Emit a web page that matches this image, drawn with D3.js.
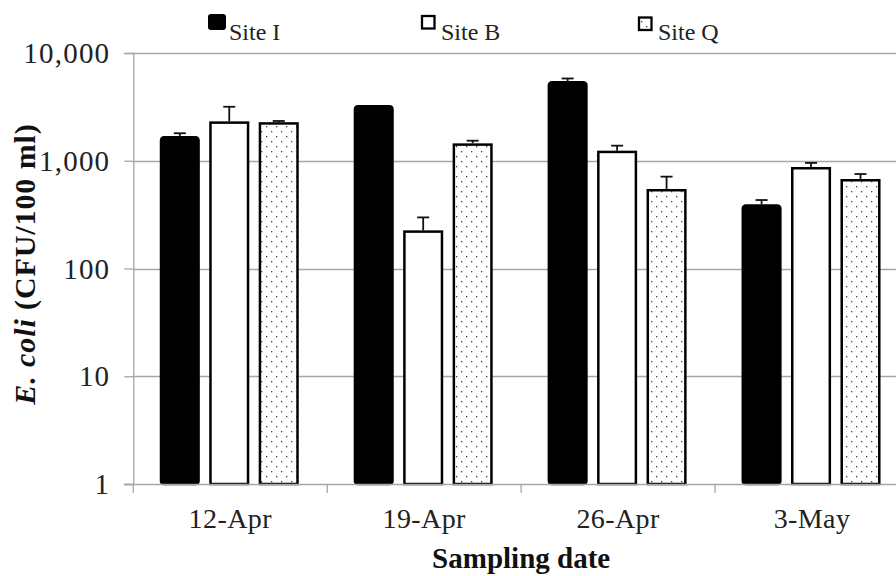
<!DOCTYPE html>
<html>
<head>
<meta charset="utf-8">
<script src="https://cdn.jsdelivr.net/npm/d3@7"></script>
<style>
html,body{margin:0;padding:0;background:#fff;}
svg{display:block;}
</style>
</head>
<body>
<script>
const categories = ["12-Apr", "19-Apr", "26-Apr", "3-May"];
const seriesNames = ["Site I", "Site B", "Site Q"];
const siteI = [1700, 3300, 5500, 395];
const siteIErr = [100, 0, 300, 37];
const siteB = [2320, 226, 1240, 875];
const siteBErr = [850, 72, 140, 80];
const siteQ = [2280, 1450, 547, 677];
const siteQErr = [60, 85, 165, 76];
const yTicks = [1, 10, 100, 1000, 10000];
const yTitleA = "E. coli";
const yTitleB = " (CFU/100 ml)";
const xTitle = "Sampling date";

const FONT = "'Liberation Serif', 'Times New Roman', serif";
const W = 896, H = 576;
const svg = d3.select("body").append("svg").attr("width", W).attr("height", H);

const defs = svg.append("defs");
const pat = defs.append("pattern").attr("id", "dots").attr("patternUnits", "userSpaceOnUse")
  .attr("width", 10).attr("height", 10);
pat.append("rect").attr("width", 10).attr("height", 10).attr("fill", "#fff");
pat.append("rect").attr("x", 1).attr("y", 1).attr("width", 1.3).attr("height", 1.3).attr("fill", "#444");
pat.append("rect").attr("x", 6).attr("y", 6).attr("width", 1.3).attr("height", 1.3).attr("fill", "#444");

const x0 = 133.3, x1 = 909;
const yTop = 53, yBot = 484;
const x = d3.scaleBand().domain(categories).range([x0, x1]).padding(0);
const y = d3.scaleLog().domain([1, 10000]).range([yBot, yTop]);
const sub = d3.scaleBand().domain(seriesNames).range([-70.5, 68.5]).paddingInner(0.19).paddingOuter(0);

const series = [
  {name: "Site I", vals: siteI, err: siteIErr, fill: "#000", stroke: "#000", rx: 3},
  {name: "Site B", vals: siteB, err: siteBErr, fill: "#fff", stroke: "#000", rx: 0},
  {name: "Site Q", vals: siteQ, err: siteQErr, fill: "url(#dots)", stroke: "#000", rx: 0}
];

// gridlines
svg.append("g").selectAll("line").data(yTicks.slice(1)).join("line")
  .attr("x1", x0).attr("x2", W).attr("y1", d => Math.round(y(d)) + 0.5).attr("y2", d => Math.round(y(d)) + 0.5)
  .attr("stroke", "#a6a6a6").attr("stroke-width", 1.3);

// y axis
const yAxis = d3.axisLeft(y).tickValues(yTicks).tickFormat(d3.format(",")).tickSize(9).tickPadding(14);
const gy = svg.append("g").attr("transform", `translate(${x0},0)`).call(yAxis);
gy.select(".domain").attr("stroke", "#a6a6a6").attr("stroke-width", 1.3);
gy.selectAll(".tick line").attr("stroke", "#a6a6a6").attr("stroke-width", 1.3);
gy.selectAll(".tick text").attr("font-family", FONT)
  .attr("font-size", 29).attr("letter-spacing", 1.2).attr("fill", "#222").attr("dy", "0.33em");

// bars
series.forEach((s, si) => {
  const g = svg.append("g");
  g.selectAll("rect").data(categories).join("rect")
    .attr("x", c => x(c) + x.bandwidth() / 2 + sub(s.name) + 1.25)
    .attr("width", sub.bandwidth() - 2.5)
    .attr("y", (c, i) => y(s.vals[i]) + 1.25)
    .attr("height", (c, i) => yBot - y(s.vals[i]) - 1.25)
    .attr("fill", s.fill).attr("stroke", s.stroke).attr("stroke-width", 2.5)
    .attr("rx", s.rx);
  // error bars
  const eg = svg.append("g").attr("stroke", "#111").attr("stroke-width", 1.8);
  categories.forEach((c, i) => {
    if (!s.err[i]) return;
    const cx = x(c) + x.bandwidth() / 2 + sub(s.name) + sub.bandwidth() / 2;
    const yv = y(s.vals[i]), ye = y(s.vals[i] + s.err[i]);
    eg.append("line").attr("x1", cx).attr("x2", cx).attr("y1", yv).attr("y2", ye);
    eg.append("line").attr("x1", cx - 6).attr("x2", cx + 6).attr("y1", ye).attr("y2", ye);
  });
});

// x axis
const gx = svg.append("g").attr("transform", `translate(0,${yBot})`);
gx.append("line").attr("x1", x0 - 9).attr("x2", W).attr("y1", 0.5).attr("y2", 0.5)
  .attr("stroke", "#a6a6a6").attr("stroke-width", 1.3);
const bounds = categories.map(c => x(c)).concat([x1]);
gx.selectAll("line.tk").data(bounds).join("line").attr("class", "tk")
  .attr("x1", d => d).attr("x2", d => d).attr("y1", 0).attr("y2", 9)
  .attr("stroke", "#a6a6a6").attr("stroke-width", 1.3);
gx.selectAll("text").data(categories).join("text")
  .attr("x", c => x(c) + x.bandwidth() / 2).attr("y", 44)
  .attr("text-anchor", "middle").attr("font-family", FONT)
  .attr("font-size", 28).attr("letter-spacing", 0.4).attr("fill", "#222").text(c => c);

// x title
svg.append("text").attr("x", (x0 + x1) / 2).attr("y", 568).attr("text-anchor", "middle")
  .attr("font-family", FONT).attr("font-size", 29)
  .attr("font-weight", "bold").attr("fill", "#111").text(xTitle);

// y title
const yt = svg.append("text").attr("transform", "translate(35,264) rotate(-90)").attr("text-anchor", "middle")
  .attr("font-family", FONT).attr("font-size", 30).attr("letter-spacing", 0.9)
  .attr("font-weight", "bold").attr("fill", "#111");
yt.append("tspan").attr("font-style", "italic").text(yTitleA);
yt.append("tspan").text(yTitleB);

// legend
const legX = [208, 421, 638];
const legY = [14, 15, 16.5];
const leg = svg.append("g");
series.forEach((s, i) => {
  if (i === 0) {
    leg.append("rect").attr("x", legX[i]).attr("y", legY[i]).attr("width", 18).attr("height", 16)
      .attr("rx", 3).attr("fill", "#000");
  } else {
    leg.append("rect").attr("x", legX[i] + 1).attr("y", legY[i] + 1).attr("width", 12.5).attr("height", 12.5)
      .attr("fill", s.fill).attr("stroke", "#000").attr("stroke-width", 2.3);
  }
  leg.append("text").attr("x", legX[i] + (i === 0 ? 21 : 20)).attr("y", 40)
    .attr("font-family", FONT).attr("font-size", 24)
    .attr("fill", "#222").text(s.name);
});
</script>
</body>
</html>
